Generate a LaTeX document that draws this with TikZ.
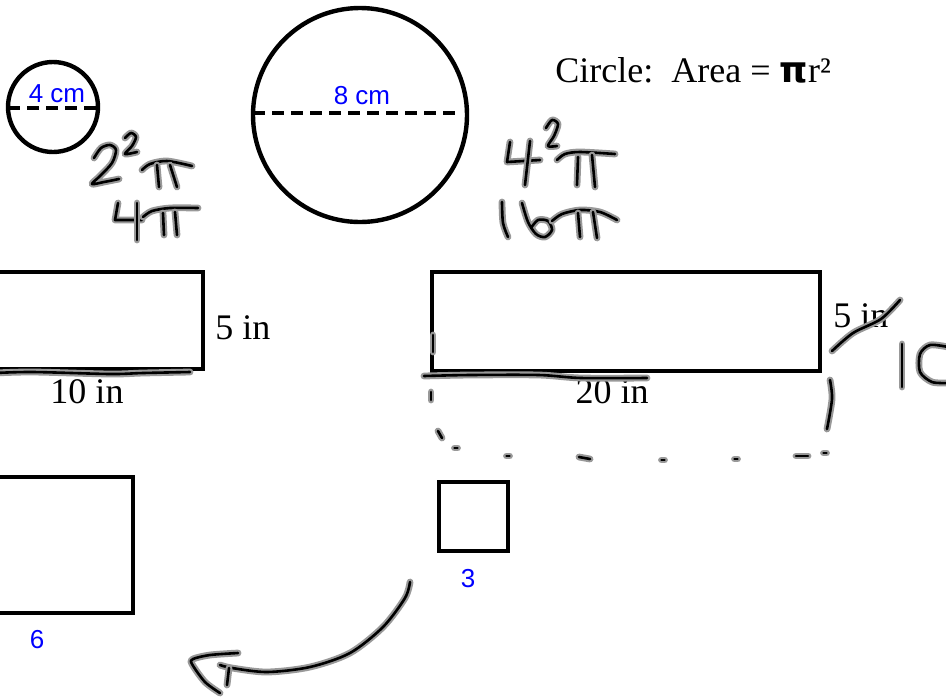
\documentclass[tikz,border=0pt]{standalone}
\usepackage{fontspec}
\setmainfont{Liberation Serif}
\newfontfamily\labelfont{Liberation Sans}
\newfontfamily\pifont{DejaVu Sans}
\usetikzlibrary{calc}

\begin{document}
\begin{tikzpicture}
[x=0.5pt,y=-0.5pt,
outline/.style={line width=2.2pt},
diam/.style={line width=2pt, dash pattern=on 6pt off 3.5pt},
dim/.style={font=\fontsize{18}{20}\selectfont, inner sep=0pt},
side/.style={font=\labelfont\fontsize{13}{15}\selectfont, text=blue, inner sep=0pt},
pen/.style={line width=1.3pt, line cap=round, line join=round,
  preaction={draw=black!40, line width=3.4pt, line cap=round, line join=round}}]
%%%%%%%%%%

\def \rsmall {45}
\def \rbig {107}

\useasboundingbox (0,0) rectangle (946,697);

% circles
\draw[outline] (53,107) circle[radius=\rsmall];
\draw[diam] (53-\rsmall,108) -- (53+\rsmall,108);
\node[side,anchor=base] (dsmall) at (57,102) {4 cm};

\draw[outline] (360,115) circle[radius=\rbig];
\draw[diam] (360-\rbig,113) -- (462,113);
\node[side,anchor=base] (dbig) at (362,104) {8 cm};

\node[dim,anchor=base west] (formula) at (555,82) {Circle:\ \ Area = {\pifont\bfseries π}r²};

% rectangles
\draw[outline] (-5,272) rectangle (203,369);
\node[dim,anchor=base west] (hleft) at (215,339) {5 in};
\node[dim,anchor=base] (wleft) at (87,403) {10 in};

\draw[outline] (432,272) rectangle (820,371);
\node[dim,anchor=base west] (hright) at (833,327) {5 in};
\node[dim,anchor=base] (wright) at (612,403) {20 in};

% squares
\draw[outline] (-5,477) rectangle (133,613);
\node[side,anchor=base] (sbig) at (37,648) {6};
\draw[outline] (439,482) rectangle (508,551);
\node[side,anchor=base] (ssmall) at (468,587) {3};

%%%%%%%%%% handwriting
% 2^2 pi
\draw[pen] plot[smooth] coordinates {(94,158) (101,148) (110,145) (116,150) (112,163) (100,176) (92,184) (104,182) (119,179)};
\draw[pen] plot[smooth] coordinates {(125,138) (131,133) (136,137) (132,146) (125,154) (137,152)};
\draw[pen] plot[smooth] coordinates {(142,170) (150,164) (167,161) (192,166)};
\draw[pen] (157,165) -- (159,187);
\draw[pen] (170,165) -- (177,187);
% 4 pi
\draw[pen] (118,203) -- (115,220) -- (142,220);
\draw[pen] (137,203) -- (137,240);
\draw[pen] plot[smooth] coordinates {(143,217) (152,211) (170,208) (198,208)};
\draw[pen] (163,213) -- (164,235);
\draw[pen] (175,212) -- (177,235);
% 4^2 pi
\draw[pen] (510,142) -- (507,162) -- (540,160);
\draw[pen] (530,141) -- (525,185);
\draw[pen] plot[smooth] coordinates {(546,128) (552,120) (558,124) (554,136) (548,146) (557,146)};
\draw[pen] plot[smooth] coordinates {(557,160) (565,154) (580,152) (615,154)};
\draw[pen] (578,157) -- (577,185);
\draw[pen] (592,155) -- (595,187);
% 16 pi
\draw[pen] plot[smooth] coordinates {(502,202) (503,223) (508,237)};
\draw[pen] plot[smooth] coordinates {(522,203) (528,222) (536,234) (545,237) (552,230) (548,221) (538,220) (531,228)};
\draw[pen] plot[smooth] coordinates {(552,221) (562,214) (580,210) (600,212) (617,220)};
\draw[pen] (578,213) -- (580,237);
\draw[pen] (593,212) -- (597,238);

% marks on the rectangles
\draw[pen] plot[smooth] coordinates {(-5,373) (33,372) (110,374) (143,373) (190,372)};
\draw[pen] plot[smooth] coordinates {(424,376) (470,375) (539,375) (581,378) (647,378)};
\draw[pen] (433,335) -- (433,352);
\draw[pen] (431,392) -- (431,400);
\draw[pen] (438,431) -- (442,438);
\foreach \x/\y in {456/448, 508/456, 663/460, 736/459, 825/453}
  \draw[pen] (\x-1.5,\y) -- (\x+1.5,\y);
\draw[pen] (579,457) -- (590,459);
\draw[pen] (796,456) -- (808,456);
\draw[pen] plot[smooth] coordinates {(830,380) (832,399) (827,429)};
\draw[pen] plot[smooth] coordinates {(832,351) (853,333) (881,319) (900,300)};
% 10
\draw[pen] (902,344) -- (902,387);
\draw[pen] plot[smooth] coordinates {(948,347) (930,345) (920,354) (920,372) (932,382) (948,383)};

% arrow
\draw[pen] plot[smooth] coordinates {(410,582) (405,598) (383,627) (350,653) (310,667) (267,672) (232,668) (220,665)};
\draw[pen] plot[smooth] coordinates {(238,653) (210,655) (193,659) (192,664) (205,682) (220,693)};
\draw[pen] (229,668) -- (227,685);
\end{tikzpicture}
\end{document}
